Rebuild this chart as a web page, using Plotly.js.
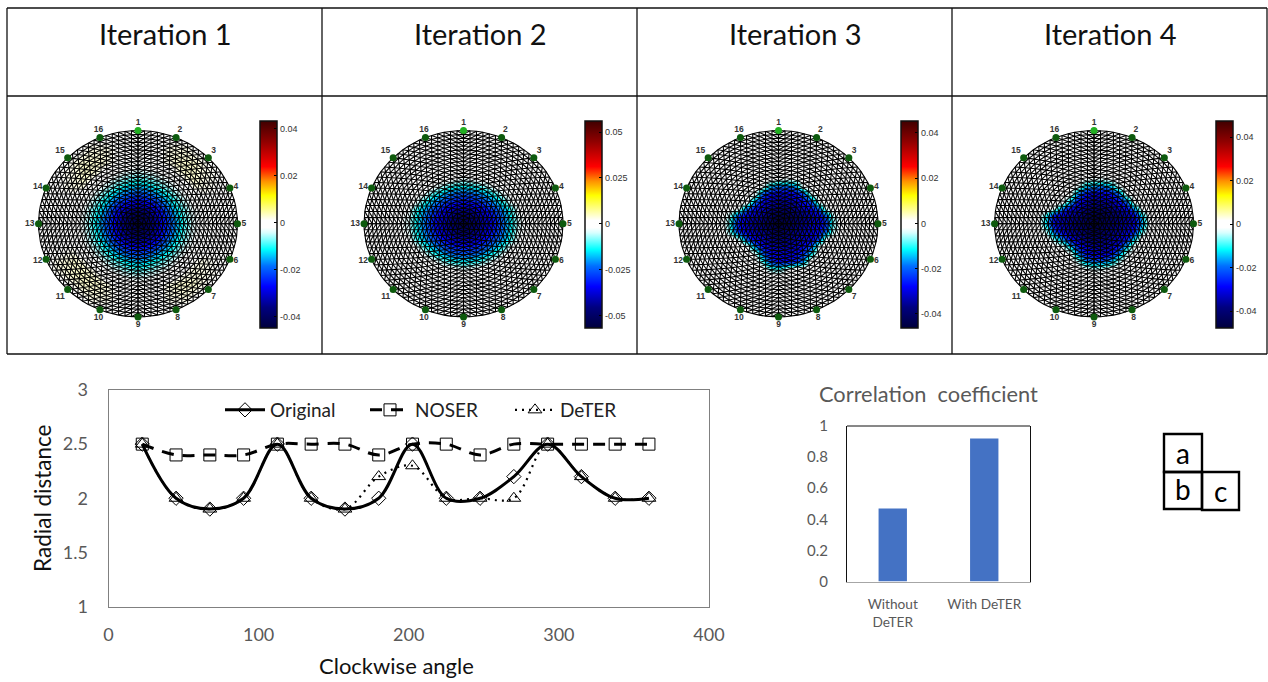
<!DOCTYPE html>
<html><head><meta charset="utf-8">
<script src="https://cdn.plot.ly/plotly-3.0.1.min.js"></script>
<style>html,body{margin:0;padding:0;background:#fff}</style></head>
<body><div id="chart" style="width:1268px;height:682px"></div>
<script>
// ---------- Data ----------
const angle = [22.5,45,67.5,90,112.5,135,157.5,180,202.5,225,247.5,270,292.5,315,337.5,360];
const original = [2.5,2,1.9,2,2.5,2,1.9,2,2.5,2,2,2.2,2.5,2.2,2,2];
const noser = [2.5,2.4,2.4,2.4,2.5,2.5,2.5,2.4,2.5,2.5,2.4,2.5,2.5,2.5,2.5,2.5];
const deter = [2.5,2,1.9,2,2.5,2,1.9,2.2,2.3,2,2,2,2.5,2.2,2,2];
const barCategories = ['Without<br>DeTER','With DeTER'];
const correlation = [0.47,0.92];
const iterationTitles = ['Iteration 1','Iteration 2','Iteration 3','Iteration 4'];
const electrodes = ['1','2','3','4','5','6','7','8','9','10','11','12','13','14','15','16'];
const electrodeTextPos = ['top center','top right','top right','middle right','middle right','middle right','bottom right','bottom center','bottom center','bottom center','bottom left','middle left','middle left','middle left','top left','top center'];
// colour-bar tick values per iteration and value ranges
const ticks1 = [0.04,0.02,0,-0.02,-0.04];
const ticks2 = [0.05,0.025,0,-0.025,-0.05];
const ticks3 = [0.04,0.02,0,-0.02,-0.04];
const ticks4 = [0.04,0.02,0,-0.02,-0.04];
const zRange1 = [-0.0449,0.0434];
const zRange2 = [-0.0566,0.056];
const zRange3 = [-0.0462,0.0453];
const zRange4 = [-0.0478,0.0474];
// field sample positions (mesh units, electrode ring = 100)
const fieldAxis = [-56,-48,-40,-32,-24,-16,-8,0,8,16,24,32,40,48,56];
const fieldAxisWide = [-96,-80,-64,-56,-48,-40,-32,-24,-16,-8,0,8,16,24,32,40,48,56,64,80,96];
// conductivity change in thousandths, rows listed top to bottom
const field1 = [
[0,0,0, 0, 0, 0, 0, 0, 0, 0, 0, 0, 0, 0, 0, 0, 0, 0,0,0,0],
[0,0,0, 1, 2, 2, 2, 1, 1, 0, 0, 0, 1, 1, 2, 2, 2, 1,0,0,0],
[0,0,2, 3, 3, 3, 2, 1, 1, 0,-1, 0, 1, 1, 2, 3, 3, 3,2,0,0],
[0,1,2, 3, 3, 2,-1,-1,-3,-4,-5,-4,-3,-1,-1, 2, 3, 3,2,1,0],
[0,1,2, 3, 2,-1,-2,-4,-6,-8,-9,-8,-6,-4,-2,-1, 2, 3,2,1,0],
[0,1,2, 2,-1,-2,-5,-8,-11,-14,-15,-14,-11,-8,-5,-2,-1, 2,2,1,0],
[0,1,1,-1,-2,-5,-9,-13,-17,-20,-21,-20,-17,-13,-9,-5,-2,-1,1,1,0],
[0,1,1,-1,-4,-8,-13,-19,-24,-27,-28,-27,-24,-19,-13,-8,-4,-1,1,1,0],
[0,1,0,-2,-6,-11,-17,-24,-30,-34,-35,-34,-30,-24,-17,-11,-6,-2,0,1,0],
[0,0,-1,-3,-7,-13,-20,-27,-34,-39,-41,-39,-34,-27,-20,-13,-7,-3,-1,0,0],
[0,0,-1,-3,-8,-14,-21,-28,-35,-41,-44,-41,-35,-28,-21,-14,-8,-3,-1,0,0],
[0,0,-1,-3,-7,-13,-20,-27,-34,-39,-41,-39,-34,-27,-20,-13,-7,-3,-1,0,0],
[0,1,0,-2,-6,-11,-17,-24,-30,-34,-35,-34,-30,-24,-17,-11,-6,-2,0,1,0],
[0,1,1,-1,-4,-8,-13,-19,-24,-27,-28,-27,-24,-19,-13,-8,-4,-1,1,1,0],
[0,1,2,-1,-2,-5,-9,-13,-17,-20,-21,-20,-17,-13,-9,-5,-2,-1,1,1,0],
[0,2,3, 2,-1,-2,-5,-8,-11,-14,-15,-14,-11,-8,-5,-2,-1, 1,2,1,0],
[0,2,3, 3, 2,-1,-2,-4,-6,-8,-10,-8,-6,-4,-2,-1, 1, 2,2,1,0],
[0,1,3, 3, 3, 2,-1,-1,-3,-4,-5,-4,-3,-1,-1, 1, 2, 2,2,1,0],
[0,0,2, 3, 3, 3, 2, 1, 1, 0,-1, 0, 1, 1, 2, 3, 3, 3,2,0,0],
[0,0,0, 1, 2, 2, 2, 1, 1, 0, 0, 0, 1, 1, 2, 2, 2, 1,0,0,0],
[0,0,0, 0, 0, 0, 0, 0, 0, 0, 0, 0, 0, 0, 0, 0, 0, 0,0,0,0]];
const field2 = [
[ 0, 0, 0, 0, 0, 0, 0, 0, 0, 0, 0, 0, 0, 0, 0],
[ 0, 0, 0, 0, 0, 0,-2,-4,-2, 0, 0, 0, 0, 0, 0],
[ 0, 0, 0,-1,-6,-11,-14,-15,-14,-11,-6,-1, 0, 0, 0],
[ 0, 0,-3,-10,-16,-21,-24,-25,-24,-21,-16,-10,-3, 0, 0],
[ 0,-3,-11,-18,-24,-29,-32,-33,-32,-29,-24,-18,-11,-3, 0],
[-1,-11,-18,-25,-31,-37,-40,-42,-40,-37,-31,-25,-18,-11,-1],
[-3,-13,-21,-29,-36,-42,-47,-50,-47,-42,-36,-29,-21,-13,-3],
[-4,-14,-22,-31,-38,-44,-50,-55,-50,-44,-38,-31,-22,-14,-4],
[-3,-13,-21,-29,-36,-42,-47,-50,-47,-42,-36,-29,-21,-13,-3],
[-1,-11,-18,-25,-31,-37,-40,-42,-40,-37,-31,-25,-18,-11,-1],
[ 0,-3,-11,-18,-24,-29,-32,-33,-32,-29,-24,-18,-11,-3, 0],
[ 0, 0,-3,-10,-16,-21,-24,-25,-24,-21,-16,-10,-3, 0, 0],
[ 0, 0, 0,-1,-6,-11,-14,-15,-14,-11,-6,-1, 0, 0, 0],
[ 0, 0, 0, 0, 0, 0,-2,-4,-2, 0, 0, 0, 0, 0, 0],
[ 0, 0, 0, 0, 0, 0, 0, 0, 0, 0, 0, 0, 0, 0, 0]];
const field3 = [
[ 0, 0, 0, 0, 0, 0, 0, 0, 0, 0, 0, 0, 0, 0, 0],
[ 0, 0, 0, 0, 0, 0, 0,-2,-3,-2, 0, 0, 0, 0, 0],
[ 0, 0, 0, 0, 0,-3,-16,-20,-20,-18,-3, 0, 0, 0, 0],
[ 0, 0, 0, 0,-2,-22,-28,-30,-30,-28,-22,-4, 0, 0, 0],
[ 0, 0, 0, 0,-18,-28,-32,-34,-34,-32,-28,-22,-3, 0, 0],
[ 0, 0,-3,-20,-28,-32,-36,-38,-38,-36,-32,-28,-20,-4, 0],
[ 0,-8,-24,-30,-33,-36,-40,-43,-43,-40,-36,-33,-30,-20,-4],
[ 0,-12,-28,-32,-35,-38,-43,-46,-43,-38,-35,-32,-30,-24,-6],
[ 0,-10,-26,-30,-33,-36,-40,-43,-40,-36,-33,-30,-28,-20,-4],
[ 0, 0,-5,-22,-30,-32,-36,-38,-36,-34,-32,-30,-22,-3, 0],
[ 0, 0, 0,-2,-18,-28,-32,-34,-34,-32,-28,-22,-3, 0, 0],
[ 0, 0, 0, 0,-2,-20,-28,-30,-30,-28,-24,-12, 0, 0, 0],
[ 0, 0, 0, 0, 0,-10,-24,-28,-28,-26,-18, 0, 0, 0, 0],
[ 0, 0, 0, 0, 0, 0,-8,-10,-3, 0, 0, 0, 0, 0, 0],
[ 0, 0, 0, 0, 0, 0, 0, 0, 0, 0, 0, 0, 0, 0, 0]];
const field4 = [
[ 0, 0, 0, 0, 0, 0, 0, 0, 0, 0, 0, 0, 0, 0, 0],
[ 0, 0, 0, 0, 0, 0,-2,-3,-3,-2, 0, 0, 0, 0, 0],
[ 0, 0, 0, 0, 0,-4,-16,-18,-20,-16,-4, 0, 0, 0, 0],
[ 0, 0, 0, 0,-1,-20,-28,-31,-31,-28,-20,-2, 0, 0, 0],
[ 0, 0, 0, 0,-14,-29,-34,-36,-36,-34,-29,-20,-1, 0, 0],
[ 0, 0,-4,-20,-30,-34,-38,-40,-40,-38,-34,-30,-17,-2, 0],
[ 0,-12,-28,-33,-36,-38,-42,-45,-45,-42,-38,-35,-30,-14, 0],
[ 0,-14,-30,-34,-37,-40,-44,-48,-44,-40,-37,-34,-30,-18,-1],
[ 0,-6,-22,-32,-36,-38,-42,-45,-42,-38,-36,-33,-26,-10, 0],
[ 0, 0,-8,-18,-30,-34,-38,-40,-38,-36,-33,-28,-12, 0, 0],
[ 0, 0, 0,-3,-14,-28,-33,-36,-36,-34,-28,-14,-2, 0, 0],
[ 0, 0, 0, 0,-2,-18,-28,-32,-32,-28,-18,-4, 0, 0, 0],
[ 0, 0, 0, 0, 0,-6,-18,-20,-20,-16,-6, 0, 0, 0, 0],
[ 0, 0, 0, 0, 0, 0,-2,-4,-3,-1, 0, 0, 0, 0, 0],
[ 0, 0, 0, 0, 0, 0, 0, 0, 0, 0, 0, 0, 0, 0, 0]];

// ---------- Layout helpers ----------
const W=1268,H=682;
const dx=(a,b)=>[a/W,b/W];
const dy=(t,b)=>[1-b/H,1-t/H];
const jetWhite=[[0,'#00003c'],[.1,'#000080'],[.2,'#0000ff'],[.3,'#0070ff'],[.38,'#00ffff'],[.46,'#d8ffff'],[.485,'#ffffff'],[.52,'#ffffff'],[.58,'#ffff80'],[.64,'#ffff00'],[.71,'#ff9000'],[.78,'#ff0000'],[.9,'#900000'],[1,'#400000']];
const GREY='#595959', SANS='Lato, "Open Sans", sans-serif', ARIAL='"Liberation Sans", Arial, sans-serif';

// finite-element mesh: concentric rings, triangulated quadrant by quadrant
const RINGS=24;
function buildMesh(){
  const xs=[],ys=[];
  const node=(k,j)=>{const r=100*k/RINGS,n=4*k,t=k?2*Math.PI*j/n:0;return [r*Math.sin(t),r*Math.cos(t)];};
  const seg=(p,q)=>{xs.push(p[0],q[0],null);ys.push(p[1],q[1],null);};
  for(let k=1;k<=RINGS;k++){
    const n=4*k;
    for(let j=0;j<=n;j++){const p=node(k,j%n);xs.push(p[0]);ys.push(p[1]);}
    xs.push(null);ys.push(null);
    for(let q=0;q<4;q++){
      for(let j=0;j<=k;j++){
        const b=node(k,(q*k+j)%n);
        if(k===1){seg(b,[0,0]);continue;}
        if(j<k) seg(b,node(k-1,(q*(k-1)+j)%(4*(k-1))));
        if(j>0) seg(b,node(k-1,(q*(k-1)+j-1)%(4*(k-1))));
      }
    }
  }
  return {xs,ys};
}
const mesh=buildMesh();
const electrodePos=electrodes.map((_,i)=>i*Math.PI/8);

const panels=[
 {grid:field1,axis:fieldAxisWide,zr:zRange1,ticks:ticks1,cx:138,cb:[260,277]},
 {grid:field2,axis:fieldAxis,zr:zRange2,ticks:ticks2,cx:463.5,cb:[585,602]},
 {grid:field3,axis:fieldAxis,zr:zRange3,ticks:ticks3,cx:778.5,cb:[901,918]},
 {grid:field4,axis:fieldAxis,zr:zRange4,ticks:ticks4,cx:1094,cb:[1216,1233]}];
const RX=99.5,RY=93.2,CY=223.7,CLIP=1.25;
const data=[],annotations=[],shapes=[];
const layout={width:W,height:H,margin:{l:0,r:0,t:0,b:0},paper_bgcolor:'#fff',plot_bgcolor:'#fff',showlegend:true,autosize:false,
 font:{family:SANS,color:GREY},hovermode:false};

panels.forEach((p,i)=>{
  const n=i+1,xa='x'+n,ya='y'+n;
  layout['xaxis'+n]={domain:dx(p.cx-RX*CLIP,p.cx+RX*CLIP),range:[-100*CLIP,100*CLIP],visible:false,fixedrange:true};
  layout['yaxis'+n]={domain:dy(CY-RY*CLIP,CY+RY*CLIP),range:[-100*CLIP,100*CLIP],visible:false,fixedrange:true};
  data.push({type:'heatmap',x:p.axis,y:p.axis.slice().reverse(),z:p.grid.map(r=>r.map(v=>v/1000)),xaxis:xa,yaxis:ya,
    zmin:p.zr[0],zmax:p.zr[1],colorscale:jetWhite,zsmooth:'best',showlegend:false,hoverinfo:'skip',
    colorbar:{x:p.cb[0]/W,xanchor:'left',xref:'paper',y:1-121/H,yanchor:'top',yref:'paper',len:207,lenmode:'pixels',thickness:p.cb[1]-p.cb[0],thicknessmode:'pixels',
      tickmode:'array',tickvals:p.ticks,ticktext:p.ticks.map(String),ticks:'inside',ticklen:3,tickcolor:'#000',tickwidth:1,
      tickfont:{family:ARIAL,size:9,color:'#333'},outlinecolor:'#111',outlinewidth:1.5,borderwidth:0,xpad:0,ypad:0,bgcolor:'rgba(0,0,0,0)'}});
  data.push({type:'scatter',mode:'lines',x:mesh.xs,y:mesh.ys,xaxis:xa,yaxis:ya,line:{color:'#000',width:1.1},showlegend:false,hoverinfo:'skip'});
  data.push({type:'scatter',mode:'markers',x:electrodePos.map(t=>100*Math.sin(t)),y:electrodePos.map(t=>100*Math.cos(t)),xaxis:xa,yaxis:ya,cliponaxis:false,
    marker:{size:7,color:electrodes.map((_,j)=>j===0?'#22b022':'#0d5a0d'),line:{width:0}},showlegend:false,hoverinfo:'skip'});
  data.push({type:'scatter',mode:'text',x:electrodePos.map(t=>104*Math.sin(t)),y:electrodePos.map(t=>104*Math.cos(t)),text:electrodes,xaxis:xa,yaxis:ya,cliponaxis:false,
    textposition:electrodeTextPos,textfont:{family:ARIAL,size:8.5,color:'#333',weight:'bold'},showlegend:false,hoverinfo:'skip'});
  annotations.push({xref:'paper',yref:'paper',x:(165+315*i)/W,y:1-34/H,text:iterationTitles[i],showarrow:false,xanchor:'center',yanchor:'middle',font:{family:SANS,size:29,color:'#111'}});
});

// Radial distance chart
layout.xaxis5={domain:dx(108.5,709),range:[0,400],tickvals:[0,100,200,300,400],showline:true,mirror:true,linecolor:'#808080',linewidth:1,showgrid:false,zeroline:false,ticks:'',
  tickfont:{family:SANS,size:18,color:GREY},ticklabelstandoff:12,fixedrange:true,anchor:'y5'};
layout.yaxis5={domain:dy(390,606.5),range:[1,3],tickvals:[1,1.5,2,2.5,3],showline:true,mirror:true,linecolor:'#808080',linewidth:1,showgrid:false,zeroline:false,ticks:'',
  tickfont:{family:SANS,size:18,color:GREY},ticklabelstandoff:16,fixedrange:true,title:{text:'Radial distance',font:{family:SANS,size:22.5,color:'#111'},standoff:4},anchor:'x5'};
annotations.push({xref:'paper',yref:'paper',x:396/W,y:1-665/H,text:'Clockwise angle',showarrow:false,xanchor:'center',yanchor:'middle',font:{family:SANS,size:22,color:'#111'}});
const lineTrace=(name,y,width,dash,symbol,size)=>({type:'scatter',mode:'lines+markers',name,x:angle,y,xaxis:'x5',yaxis:'y5',
  line:{color:'#000',width,dash,shape:'spline',smoothing:1},marker:{symbol,size,color:'#000',line:{width:1,color:'#000'}},cliponaxis:false});
data.push(lineTrace('Original',original,3,'solid','diamond-open',11));
data.push(lineTrace('NOSER',noser,3,'12px,9px','square-open',12));
data.push(lineTrace('DeTER',deter,2.2,'2px,5px','triangle-up-open',12));
layout.legend={x:220/W,xanchor:'left',y:1-391/H,yanchor:'top',orientation:'h',bgcolor:'rgba(0,0,0,0)',itemwidth:40,entrywidth:90,entrywidthmode:'pixels',
  font:{family:SANS,size:19,color:'#222'},itemclick:false,itemdoubleclick:false};

// Correlation bars
layout.xaxis6={domain:dx(847,1030),type:'category',range:[-0.5,1.5],showline:true,linecolor:'#a6a6a6',linewidth:1.5,ticks:'',showgrid:false,zeroline:false,
  tickfont:{family:SANS,size:13.7,color:GREY},ticklabelstandoff:10,fixedrange:true,anchor:'y6'};
layout.yaxis6={domain:dy(426,581.5),range:[0,1],dtick:0.2,tick0:0,showline:true,mirror:true,linecolor:'#111',linewidth:1,ticks:'',showgrid:false,zeroline:false,
  tickfont:{family:SANS,size:15,color:GREY},ticklabelstandoff:15,fixedrange:true,anchor:'x6'};
data.push({type:'bar',x:barCategories,y:correlation,xaxis:'x6',yaxis:'y6',marker:{color:'#4472C4',line:{width:0}},width:0.31,showlegend:false,hoverinfo:'skip'});
annotations.push({xref:'paper',yref:'paper',x:928/W,y:1-393/H,text:'Correlation  coefficient',showarrow:false,xanchor:'center',yanchor:'middle',font:{family:SANS,size:21.8,color:GREY}});

// Table frame and panel key
const ln=(x0,y0,x1,y1,w,c)=>({type:'line',xref:'paper',yref:'paper',x0:x0/W,x1:x1/W,y0:1-y0/H,y1:1-y1/H,line:{color:c||'#111',width:w||1.3},layer:'above'});
[7,322,637,952,1267].forEach(x=>shapes.push(ln(x,8,x,354)));
[8,96,354].forEach(y=>shapes.push(ln(7,y,1267,y)));
shapes.push(ln(847,426,1030,426,1));
const rect=(x0,y0,x1,y1)=>({type:'rect',xref:'paper',yref:'paper',x0:x0/W,x1:x1/W,y0:1-y0/H,y1:1-y1/H,line:{color:'#000',width:2.4},fillcolor:'rgba(0,0,0,0)'});
shapes.push(rect(1164,434,1202,472),rect(1164,472,1202,509),rect(1202,472,1239,510));
[['a',1183,453],['b',1183,489],['c',1220,491]].forEach(a=>annotations.push({xref:'paper',yref:'paper',x:a[1]/W,y:1-a[2]/H,text:a[0],showarrow:false,xanchor:'center',yanchor:'middle',font:{family:SANS,size:28,color:'#000'}}));

layout.annotations=annotations;layout.shapes=shapes;
Plotly.newPlot('chart',data,layout,{displayModeBar:false,staticPlot:true});
</script></body></html>
